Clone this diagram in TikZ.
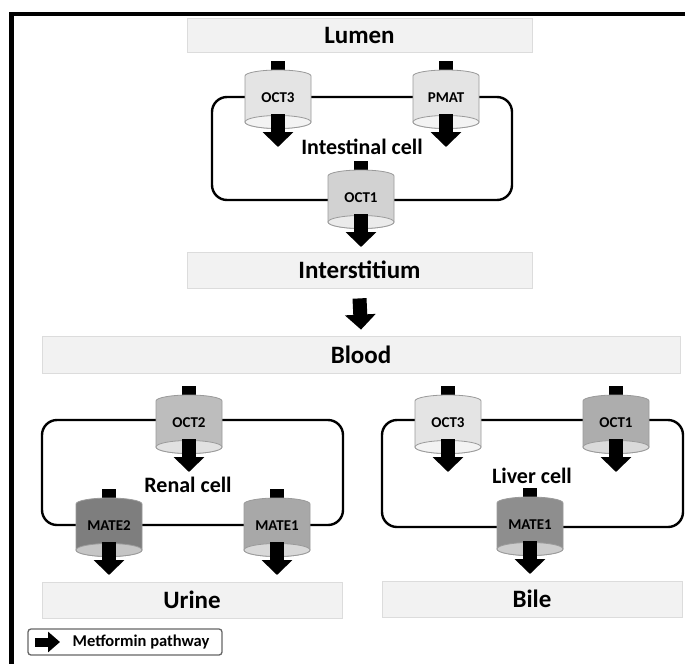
\documentclass[tikz,border=0pt]{standalone}
\usepackage{fontspec}
\setmainfont{Carlito}
\usetikzlibrary{arrows.meta,calc}
\definecolor{compfill}{HTML}{F2F2F2}
\definecolor{compline}{HTML}{DCDCDC}
\definecolor{cylline}{HTML}{9A9A9A}
\definecolor{cA}{HTML}{E4E4E4}
\definecolor{cB}{HTML}{D2D2D2}
\definecolor{cC}{HTML}{BDBDBD}
\definecolor{cD}{HTML}{7E7E7E}
\definecolor{cE}{HTML}{A8A8A8}
\definecolor{cF}{HTML}{ADADAD}
\definecolor{cG}{HTML}{8E8E8E}
\newcommand\mycyl[4]{%
  \fill ($#2+(-7,-37)$) rectangle ($#2+(7,-25)$);
  \path[cylbody, fill=#3] ($#2+(-33,-22)$) arc[start angle=180,end angle=360,x radius=33,y radius=6]
     -- ($#2+(33,24)$) arc[start angle=0,end angle=180,x radius=33,y radius=6.5] -- cycle;
  \path[cylbody, fill=#3!45!white] ($#2+(0,24)$) ellipse[x radius=33,y radius=6.5];
  \node[cyllabel] (#1) at #2 {#4};
  \draw[flow] ($(#1)+(0,16)$) -- ($(#1)+(0,49)$);
}
\begin{document}
\begin{tikzpicture}[x=1pt,y=-1pt,
  comp/.style={draw=compline, line width=0.8pt, fill=compfill, inner sep=0pt, font=\fontsize{25}{27}\selectfont\bfseries},
  cell/.style={draw=black, line width=2.4pt, rounded corners=15pt},
  cellname/.style={font=\fontsize{22}{24}\selectfont\bfseries, inner sep=0pt},
  cylbody/.style={draw=cylline, line width=0.8pt},
  cyllabel/.style={font=\fontsize{15}{17}\selectfont\bfseries, inner sep=0pt},
  flow/.style={line width=14pt, -{Triangle[width=30pt,length=15pt]}},
]
\useasboundingbox (0,0) rectangle (685,664);
\fill[white] (0,0) rectangle (685,664);
% frame
\fill[black] (9,12) rectangle (685,16);
\fill[black] (9,12) rectangle (14,664);

% compartments
\node[comp, minimum width=345pt, minimum height=34pt] (lumen) at (359.5,35) {Lumen};
\node[comp, minimum width=345pt, minimum height=36pt] (inter) at (359.5,270) {Interstitium};
\node[comp, minimum width=638pt, minimum height=37pt] (blood) at (361,354.5) {Blood};
\node[comp, minimum width=300pt, minimum height=36pt] (urine) at (192,600) {Urine};
\node[comp, minimum width=300pt, minimum height=36pt] (bile) at (532,599) {Bile};

% cells
\draw[cell] (212,97) rectangle (512,200);
\draw[cell] (42,420) rectangle (343,525);
\draw[cell] (382,420) rectangle (683,527);
\node[cellname] (intcell) at (362,147) {Intestinal cell};
\node[cellname] (rencell) at (188,485) {Renal cell};
\node[cellname] (livcell) at (532,476) {Liver cell};

% transporters
\mycyl{ioct3}{(278,98)}{cA}{OCT3}
\mycyl{ipmat}{(446,98)}{cA}{PMAT}
\mycyl{ioct1}{(361,198)}{cB}{OCT1}
\mycyl{roct2}{(189,423)}{cC}{OCT2}
\mycyl{rmate2}{(109,526)}{cD}{MATE2}
\mycyl{rmate1}{(277,526)}{cE}{MATE1}
\mycyl{loct3}{(448,423)}{cA}{OCT3}
\mycyl{loct1}{(616,423)}{cF}{OCT1}
\mycyl{lmate1}{(530,525)}{cG}{MATE1}

% interstitium to blood
\draw[flow] ($(inter.south)+(0,10)$) -- ($(blood.north)+(0,-6)$);

% legend
\draw[draw=black!60, line width=1.3pt, rounded corners=3pt, fill=white] (28,629) rectangle (222,655);
\coordinate (lgs) at (35,642);
\coordinate (lge) at (60,642);
\draw[line width=9pt, -{Triangle[width=20pt,length=12pt]}] (lgs) -- (lge);
\node[font=\fontsize{16.5}{18}\selectfont\bfseries, inner sep=0pt] (legtext) at (141,642) {Metformin pathway};
\end{tikzpicture}
\end{document}
